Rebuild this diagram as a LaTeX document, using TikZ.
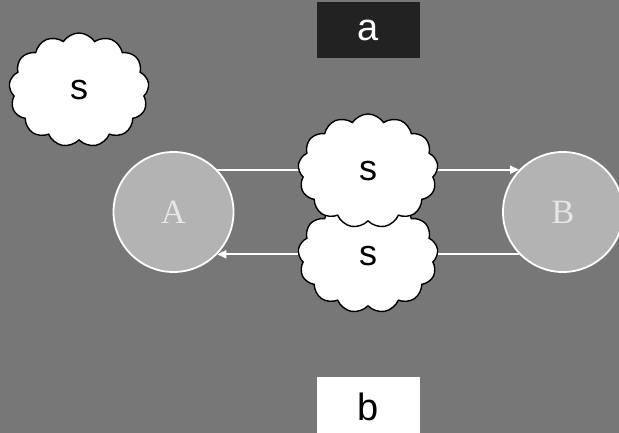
\documentclass[tikz,border=0pt]{standalone}
\usepackage{fontspec}
\setmainfont{Liberation Serif}
\setsansfont{Liberation Sans}
\usetikzlibrary{shapes.symbols,arrows.meta}
\definecolor{bggray}{HTML}{777777}
\definecolor{statefill}{HTML}{B3B3B3}
\definecolor{statetext}{HTML}{E6E6E6}
\definecolor{darkbox}{HTML}{222222}
\tikzset{
  statenode/.style={circle, draw=white, line width=1.8pt, fill=statefill,
    minimum size=120pt, inner sep=0pt, text=statetext,
    font=\fontsize{34}{34}\selectfont},
  puff/.style={cloud, cloud puffs=13, cloud puff arc=115, aspect=1.2,
    draw=black, line width=1.4pt, fill=white, minimum width=140pt,
    minimum height=114pt, inner sep=0pt,
    font=\sffamily\fontsize{36}{36}\selectfont},
  labelbox/.style={rectangle, minimum width=103pt, minimum height=56pt,
    inner sep=0pt, font=\sffamily\fontsize{38}{38}\selectfont},
  link/.style={draw=white, line width=1.7pt,
    -{Triangle[length=9pt,width=8pt]}},
}
\begin{document}
\begin{tikzpicture}[x=1pt,y=-1pt]
  \fill[bggray] (0,0) rectangle (619,433);
  \useasboundingbox (0,0) rectangle (619,433);

  \node[labelbox, fill=darkbox, text=white] (a) at (368.5,30) {a};
  \node[labelbox, fill=white, text=black, minimum height=60pt] (b) at (368.5,407) {b};

  \node[statenode] (A) at (173.5,212) {A};
  \node[statenode] (B) at (563,212) {B};

  \draw[link] (A.44) -- (B.136);
  \draw[link] (B.-136) -- (A.-44);

  \node[puff] (c0) at (79,90) {s};
  \node[puff] (c2) at (368,256) {s};
  \node[puff] (c1) at (368,171) {s};
\end{tikzpicture}
\end{document}
